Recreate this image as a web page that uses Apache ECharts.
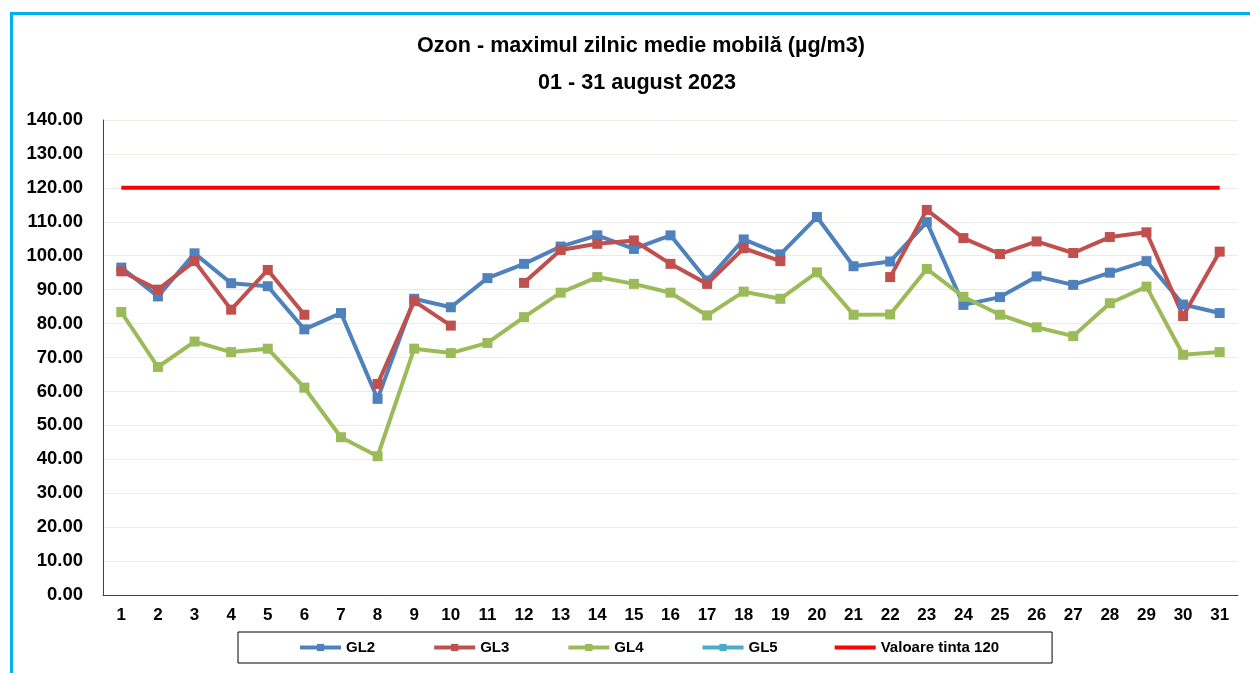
<!DOCTYPE html>
<html>
<head>
<meta charset="utf-8">
<script src="https://cdn.jsdelivr.net/npm/echarts@6/dist/echarts.min.js"></script>
<style>
html,body{margin:0;padding:0;background:#fff;}
#chart{width:1250px;height:673px;}
</style>
</head>
<body>
<div id="chart"></div>
<script>
const days = ['1','2','3','4','5','6','7','8','9','10','11','12','13','14','15','16','17','18','19','20','21','22','23','24','25','26','27','28','29','30','31'];
const gl2 = [96.5,88.0,100.7,91.9,91.0,78.3,83.1,57.8,87.3,84.8,93.4,97.6,102.7,106.0,102.0,106.0,92.7,104.8,100.4,111.4,96.9,98.3,109.9,85.5,87.8,93.9,91.4,95.0,98.4,85.6,83.1];
const gl3 = [95.4,90.0,98.4,84.1,95.8,82.6,null,62.2,86.6,79.4,null,92.0,101.7,103.5,104.5,97.6,91.7,102.2,98.4,null,null,93.7,113.5,105.2,100.5,104.2,100.8,105.5,106.9,82.2,101.2];
const gl4 = [83.4,67.2,74.7,71.6,72.6,61.1,46.5,40.9,72.6,71.3,74.3,81.9,89.1,93.7,91.7,89.1,82.4,89.4,87.3,95.1,82.6,82.7,96.1,87.9,82.6,78.9,76.3,86.0,90.9,70.8,71.6];
const gl5 = days.map(() => null);
const target = days.map(() => 120);
const yTicks = {min: 0, max: 140, interval: 10};
const titleText = 'Ozon - maximul zilnic medie mobilă (µg/m3)';
const subText = '01 - 31 august 2023';

const chart = echarts.init(document.getElementById('chart'), null, {renderer: 'canvas'});
const font = 'Liberation Sans, Arial, sans-serif';
function lineSeries(name, data, color) {
  return {
    name: name, type: 'line', data: data, connectNulls: false,
    symbol: 'rect', symbolSize: 10,
    lineStyle: {width: 4, color: color},
    itemStyle: {color: color},
    emphasis: {disabled: true},
    animation: false
  };
}
chart.setOption({
  animation: false,
  backgroundColor: '#ffffff',
  graphic: [
    {type: 'rect', shape: {x: 10, y: 12, width: 3, height: 661}, style: {fill: '#00B0F0'}, silent: true},
    {type: 'rect', shape: {x: 10, y: 12, width: 1240, height: 3}, style: {fill: '#00B0F0'}, silent: true}
  ],
  title: [
    {text: titleText, left: 412, top: 30, textStyle: {fontFamily: font, fontSize: 21.6, fontWeight: 'bold', color: '#000'}},
    {text: subText, left: 533, top: 67, textStyle: {fontFamily: font, fontSize: 21.6, fontWeight: 'bold', color: '#000'}}
  ],
  legend: {
    left: 238, top: 632,
    padding: [8, 53, 8, 60],
    borderColor: '#000', borderWidth: 1,
    itemWidth: 41, itemHeight: 9, itemGap: 57,
    lineStyle: {width: 4},
    textStyle: {fontFamily: font, fontSize: 15, fontWeight: 'bold', color: '#000'},
    data: ['GL2','GL3','GL4','GL5',
      {name: 'Valoare tinta 120', icon: 'path://M0,0 H41 V4 H0 Z'}]
  },
  grid: {left: 103, right: 12, top: 120, bottom: 78, containLabel: false},
  xAxis: {
    type: 'category', data: days, boundaryGap: true,
    axisLine: {lineStyle: {color: '#404040', width: 1}},
    axisTick: {show: false},
    axisLabel: {fontFamily: font, fontSize: 17, fontWeight: 'bold', color: '#000', margin: 12}
  },
  yAxis: {
    type: 'value', min: yTicks.min, max: yTicks.max, interval: yTicks.interval,
    axisLine: {show: true, lineStyle: {color: '#404040', width: 1}},
    axisTick: {show: false},
    splitLine: {lineStyle: {color: '#EBEBE6', width: 1}},
    axisLabel: {fontFamily: font, fontSize: 18.5, fontWeight: 'bold', color: '#000', margin: 20,
      formatter: v => v.toFixed(2)}
  },
  series: [
    lineSeries('GL2', gl2, '#4F81BD'),
    lineSeries('GL3', gl3, '#C0504D'),
    lineSeries('GL4', gl4, '#9BBB59'),
    lineSeries('GL5', gl5, '#4BACC6'),
    {name: 'Valoare tinta 120', type: 'line', data: target, symbol: 'none', showSymbol: false,
     lineStyle: {width: 4, color: '#FF0000'}, itemStyle: {color: '#FF0000'}, emphasis: {disabled: true}, z: 1}
  ]
});
</script>
</body>
</html>
